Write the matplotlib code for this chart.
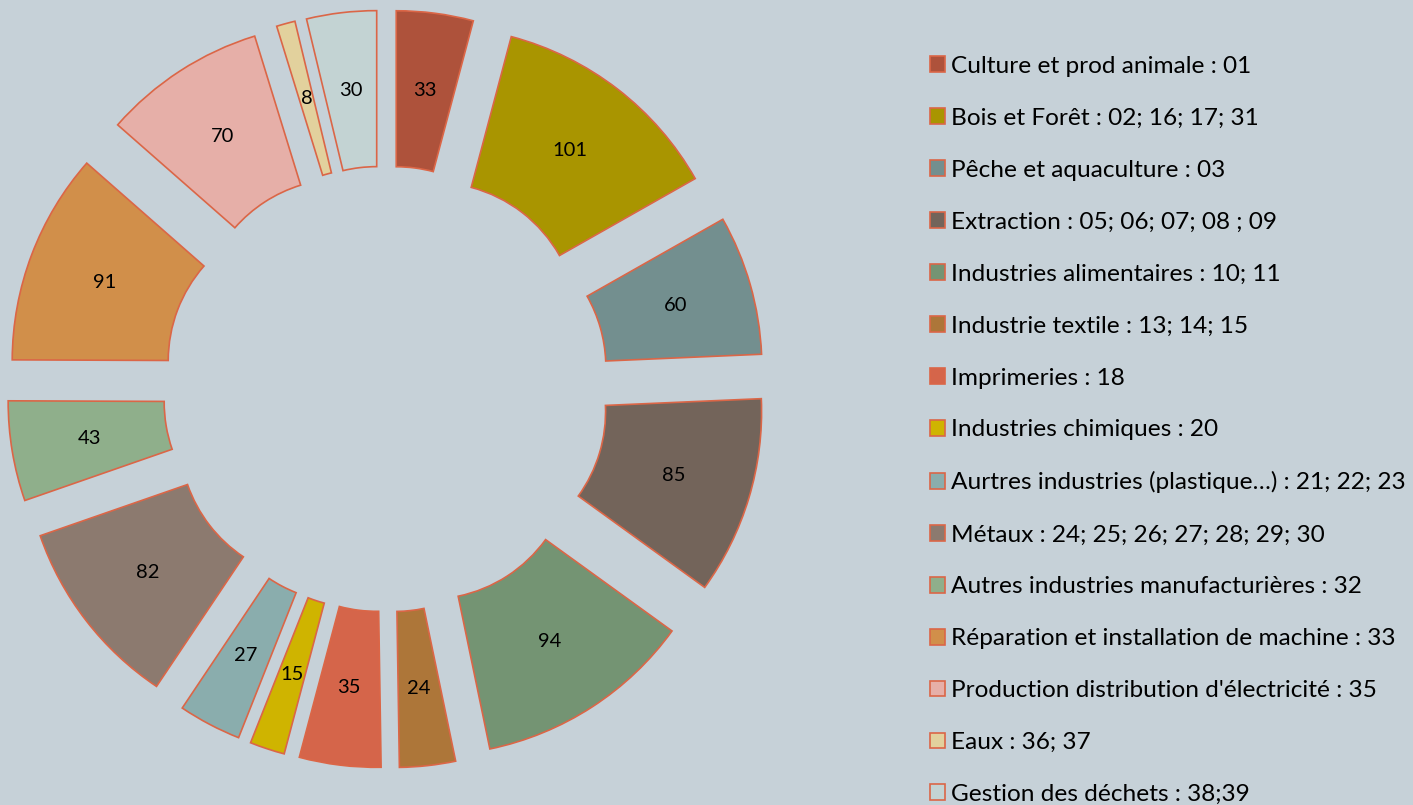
import matplotlib
matplotlib.use("Agg")
import matplotlib.pyplot as plt

plt.rcParams['font.family'] = ['Lato', 'DejaVu Sans']

# secteurs (legend order = clockwise order from 12 o'clock)
labels = [
    "Culture et prod animale : 01",
    "Bois et Forêt : 02; 16; 17; 31",
    "Pêche et aquaculture : 03",
    "Extraction : 05; 06; 07; 08 ; 09",
    "Industries alimentaires : 10; 11",
    "Industrie textile : 13; 14; 15",
    "Imprimeries : 18",
    "Industries chimiques : 20",
    "Aurtres industries (plastique…) : 21; 22; 23",
    "Métaux : 24; 25; 26; 27; 28; 29; 30",
    "Autres industries manufacturières : 32",
    "Réparation et installation de machine : 33",
    "Production distribution d'électricité : 35",
    "Eaux : 36; 37",
    "Gestion des déchets : 38;39",
]
values = [33, 101, 60, 85, 94, 24, 35, 15, 27, 82, 43, 91, 70, 8, 30]
colors = [
    "#AE523B", "#A99500", "#738F8F", "#73645A", "#749473",
    "#AD7639", "#D5654A", "#CFB400", "#8AADAD", "#8C7A6F",
    "#8FAF8B", "#D18F4A", "#E6AFA8", "#E2D19D", "#C3D3D3",
]

BG = "#C6D1D8"
EDGE = "#DB6647"
total = sum(values)

fig = plt.figure(figsize=(14.13, 8.05), dpi=100, facecolor=BG)

# square axes so that radius 1 = 300 px, centred near (386, 416) px
W, H = 1413, 805
half = 1.3 * 300
ax = fig.add_axes([(386 - half) / W, (416 - half) / H, 2 * half / W, 2 * half / H])
ax.set_facecolor(BG)

wedges, texts, autotexts = ax.pie(
    values,
    colors=colors,
    startangle=90,
    counterclock=False,
    explode=[0.263] * len(values),
    radius=1.0,
    pctdistance=0.74,
    autopct=lambda p: f"{round(p * total / 100)}",
    wedgeprops=dict(width=0.52, edgecolor=EDGE, linewidth=1.2),
    textprops=dict(fontsize=14.5, color="black"),
)
ax.set_xlim(-1.3, 1.3)
ax.set_ylim(-1.3, 1.3)
ax.set_aspect("equal")
ax.axis("off")

leg = fig.legend(
    wedges, labels,
    loc="upper left",
    bbox_to_anchor=(930 / W, 1 - 56 / H),
    frameon=False,
    fontsize=17.6,
    handlelength=0.62,
    handleheight=0.62,
    handletextpad=0.22,
    labelspacing=1.265,
    borderpad=0,
    borderaxespad=0,
)

fig.savefig("out.png", dpi=100, facecolor=BG)
